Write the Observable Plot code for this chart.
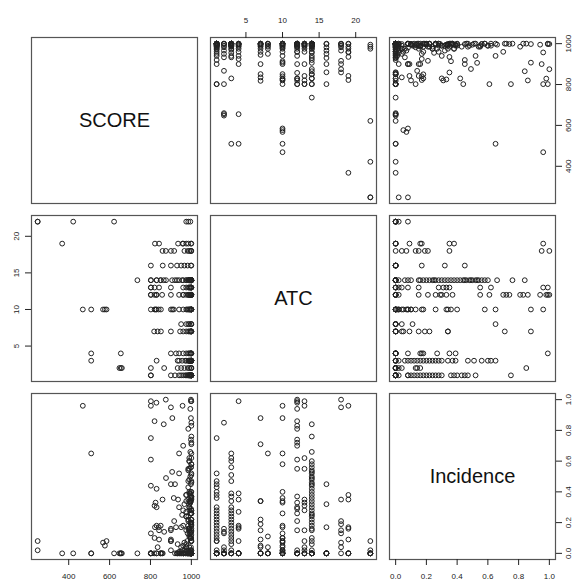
<!DOCTYPE html>
<html><head><meta charset="utf-8">
<script src="https://cdn.jsdelivr.net/npm/d3@7"></script>
<script src="https://cdn.jsdelivr.net/npm/@observablehq/plot@0.6"></script>
<style>
body{margin:0;background:#fff;}
#chart{position:relative;width:579px;height:581px;font-family:"Liberation Sans",Arial,sans-serif;}
#chart svg{position:absolute;overflow:visible;background:transparent;}
</style></head><body><div id="chart"></div>
<script>
// Variables of the pairs plot
const varNames = ["SCORE", "ATC", "Incidence"];

// Records grouped by ATC level: [SCORE, Incidence]
const atcLevels = [1, 2, 3, 4, 7, 8, 10, 12, 13, 14, 16, 18, 19, 22];
const atc1 = [[998,0],[1000,0],[995,0],[990,0],[985,0.02],[980,0.08],[998,0.10],[1000,0.12],[995,0.14],[990,0.16],[1000,0.18],[998,0.22],[975,0.24],[1000,0.26],[960,0.28],[990,0.30],[1000,0.36],[995,0.38],[1000,0.40],[985,0.43],[998,0.45],[1000,0.47],[940,0.52],[802,0.75],[802,0],[920,0],[900,0.08],[970,0],[950,0],[1000,0.20]];
const atc2 = [[998,0],[982,0],[966,0.02],[933,0],[867,0.14],[802,0.13],[655,0],[648,0],[660,0],[1000,0.85],[990,0.16],[950,0.04],[1000,0]];
const atc3 = [[510,0],[830,0.18],[933,0.06],[998,0],[1000,0.08],[995,0.10],[990,0.12],[1000,0.14],[985,0.16],[998,0.20],[1000,0.22],[975,0.24],[995,0.26],[1000,0.28],[990,0.30],[998,0.34],[1000,0.37],[995,0.39],[985,0.47],[1000,0.51],[998,0.56],[990,0.60],[1000,0.62],[940,0.65],[1000,0],[970,0],[955,0.02]];
const atc4 = [[510,0],[655,0],[900,0.16],[998,0],[1000,0.99],[990,0.39],[985,0.35],[975,0.27],[960,0.18],[998,0.08],[1000,0],[940,0],[925,0.17],[995,0]];
const atc7 = [[818,0],[835,0.04],[851,0],[900,0.09],[998,0.88],[1000,0.71],[990,0.34],[995,0.34],[985,0.22],[1000,0.19],[975,0.15],[998,0],[960,0.05],[945,0],[1000,0]];
const atc8 = [[1000,0.65],[990,0.11],[975,0.04],[998,0],[950,0],[985,0],[1000,0]];
const atc10 = [[469,0.96],[510,0.65],[568,0.07],[577,0.05],[585,0.08],[802,0],[820,0.10],[825,0.33],[840,0.17],[851,0],[900,0.02],[907,0.88],[1000,0.58],[990,0.40],[914,0.36],[975,0.34],[1000,0.26],[995,0.13],[998,0.10],[1000,0.08],[990,0.04],[960,0],[1000,0],[940,0.01],[985,0.18],[1000,0.02],[980,0],[830,0]];
const atc12 = [[802,0.99],[829,0.98],[820,0.86],[830,0.30],[857,0],[900,0.15],[998,1.0],[995,0.94],[1000,0.83],[985,0.81],[998,0.74],[1000,0.72],[960,0.70],[990,0.55],[802,0.61],[1000,0.37],[995,0.33],[998,0.29],[1000,0.26],[985,0.21],[960,0],[1000,0],[990,0],[975,0.02],[940,0]];
const atc13 = [[802,0],[820,0.31],[842,0.15],[900,0.08],[998,0.99],[802,0.96],[990,0.62],[985,0.55],[1000,0.35],[995,0.33],[975,0.04],[998,0],[1000,0.02],[960,0],[990,0.28],[1000,0]];
const atc14 = [[736,0],[802,0.44],[830,0.42],[850,0.18],[876,0.49],[906,0.53],[920,0.45],[940,0.30],[955,0.25],[865,0.84],[1000,0.76],[995,0.66],[990,0.60],[1000,0.58],[998,0.56],[985,0.54],[1000,0.52],[995,0.50],[990,0.48],[1000,0.46],[998,0.40],[975,0.38],[1000,0.36],[995,0.34],[990,0.32],[1000,0.28],[998,0.26],[985,0.24],[1000,0.22],[995,0.20],[990,0.16],[1000,0.15],[998,0.10],[1000,0.08],[975,0.06],[995,0.02],[1000,0],[998,0],[990,0],[960,0],[930,0],[802,0],[830,0],[850,0]];
const atc16 = [[802,0],[860,0],[900,0.45],[930,0],[950,0.17],[966,0.32],[982,0],[998,0],[1000,0]];
const atc18 = [[875,1.0],[900,0.95],[859,0.35],[916,0.21],[998,0.19],[982,0.13],[966,0.07],[998,0.04],[1000,0],[990,0.15]];
const atc19 = [[368,0],[822,0.17],[842,0.09],[935,0.35],[960,0],[975,0.38],[957,0.96],[998,0],[1000,0.16],[985,0]];
const atc22 = [[248,0.08],[248,0.02],[422,0],[622,0],[995,0],[985,0],[975,0]];
const atcGroups = [atc1, atc2, atc3, atc4, atc7, atc8, atc10, atc12, atc13, atc14, atc16, atc18, atc19, atc22];

// Tick labels
const scoreTicks = [400, 600, 800, 1000];
const atcTicks = [5, 10, 15, 20];
const incidenceTicks = [0, 0.2, 0.4, 0.6, 0.8, 1.0];

// Build the table
const records = [];
atcGroups.forEach((g, k) => g.forEach(([s, inc]) => records.push({SCORE: s, ATC: atcLevels[k], Incidence: inc})));

const ticks = {SCORE: scoreTicks, ATC: atcTicks, Incidence: incidenceTicks};
const fmts = {SCORE: d => String(d), ATC: d => String(d), Incidence: d3.format(".1f")};
function rDomain(key) {
  const [a, b] = d3.extent(records, d => d[key]);
  const e = (b - a) * 0.04;
  return [a - e, b + e];
}
const domains = {SCORE: rDomain("SCORE"), ATC: rDomain("ATC"), Incidence: rDomain("Incidence")};

const panelLeft = [31, 210, 389];
const panelTop = [37, 215, 393];
const S = 166, M = 30;
const chart = document.getElementById("chart");
const tickFont = 8;

for (let i = 0; i < 3; i++) {
  for (let j = 0; j < 3; j++) {
    const yv = varNames[i], xv = varNames[j];
    const marks = [];
    if (i === j) {
      marks.push(Plot.text([varNames[i]], {frameAnchor: "middle", text: d => d, fontSize: 20, fill: "#111"}));
    } else {
      marks.push(Plot.dot(records, {x: xv, y: yv, r: 2.4, stroke: "#222", strokeWidth: 1, fill: "none"}));
    }
    marks.push(Plot.frame({stroke: "#555", strokeWidth: 1.2}));
    // top axis
    if (i === 0 && j % 2 === 1) {
      marks.push(Plot.axisX({anchor: "top", ticks: ticks[xv], tickSize: 6, tickFormat: () => "", label: null}));
      marks.push(Plot.text(ticks[xv], {x: d => d, text: fmts[xv], frameAnchor: "top", dy: -17, textAnchor: "middle", lineAnchor: "middle", fontSize: tickFont, fill: "#222"}));
    }
    // bottom axis
    if (i === 2 && j % 2 === 0) {
      marks.push(Plot.axisX({anchor: "bottom", ticks: ticks[xv], tickSize: 6, tickFormat: () => "", label: null}));
      marks.push(Plot.text(ticks[xv], {x: d => d, text: fmts[xv], frameAnchor: "bottom", dy: 17, textAnchor: "middle", lineAnchor: "middle", fontSize: tickFont, fill: "#222"}));
    }
    // left axis
    if (j === 0 && i % 2 === 1) {
      marks.push(Plot.axisY({anchor: "left", ticks: ticks[yv], tickSize: 6, tickFormat: () => "", label: null}));
      marks.push(Plot.text(ticks[yv], {y: d => d, text: fmts[yv], frameAnchor: "left", dx: -15, rotate: -90, textAnchor: "middle", lineAnchor: "middle", fontSize: tickFont, fill: "#222"}));
    }
    // right axis
    if (j === 2 && i % 2 === 0) {
      marks.push(Plot.axisY({anchor: "right", ticks: ticks[yv], tickSize: 6, tickFormat: () => "", label: null}));
      marks.push(Plot.text(ticks[yv], {y: d => d, text: fmts[yv], frameAnchor: "right", dx: 13, rotate: -90, textAnchor: "middle", lineAnchor: "middle", fontSize: tickFont, fill: "#222"}));
    }
    const svg = Plot.plot({
      width: S + 2 * M,
      height: S + 2 * M,
      margin: M,
      x: {domain: domains[xv], axis: null},
      y: {domain: domains[yv], axis: null},
      style: {background: "transparent", overflow: "visible", fontFamily: "'Liberation Sans', Arial, sans-serif", fontSize: "8px", color: "#222"},
      marks
    });
    svg.style.position = "absolute";
    svg.style.left = (panelLeft[j] - M) + "px";
    svg.style.top = (panelTop[i] - M) + "px";
    chart.appendChild(svg);
  }
}
</script>
</body></html>
